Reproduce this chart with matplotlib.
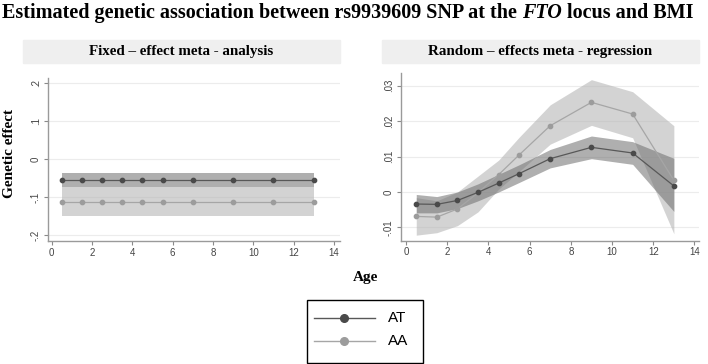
import matplotlib
matplotlib.use("Agg")
from matplotlib import pyplot as plt
from matplotlib.patches import Rectangle
from matplotlib.lines import Line2D

ages = [0.5, 1.5, 2.5, 3.5, 4.5, 5.5, 7, 9, 11, 13]

# fixed-effect meta-analysis
fix_at = [-0.056] * 10
fix_at_lo = [-0.075] * 10
fix_at_hi = [-0.037] * 10
fix_aa = [-0.112] * 10
fix_aa_lo = [-0.149] * 10
fix_aa_hi = [-0.075] * 10

# random-effects meta-regression
ran_at = [-0.0034, -0.0035, -0.0024, -0.0001, 0.0025, 0.0052, 0.0094, 0.0126, 0.0110, 0.0017]
ran_at_lo = [-0.0059, -0.0059, -0.0047, -0.0025, 0.0000, 0.0027, 0.0068, 0.0094, 0.0078, -0.0055]
ran_at_hi = [-0.0007, -0.0013, 0.0000, 0.0023, 0.0050, 0.0077, 0.0120, 0.0158, 0.0142, 0.0095]
ran_aa = [-0.0069, -0.0071, -0.0048, -0.0002, 0.0049, 0.0105, 0.0187, 0.0253, 0.0220, 0.0033]
ran_aa_lo = [-0.0122, -0.0115, -0.0095, -0.0056, 0.0008, 0.0058, 0.0135, 0.0188, 0.0153, -0.0118]
ran_aa_hi = [-0.0016, -0.0025, 0.0000, 0.0045, 0.0090, 0.0155, 0.0246, 0.0317, 0.0283, 0.0187]

xticks = [0, 2, 4, 6, 8, 10, 12, 14]
fix_yticks = [-0.2, -0.1, 0, 0.1, 0.2]
fix_ylabels = ["-.2", "-.1", "0", ".1", ".2"]
ran_yticks = [-0.01, 0, 0.01, 0.02, 0.03]
ran_ylabels = ["-.01", "0", ".01", ".02", ".03"]

AT_LINE = "#585858"
AT_MARK = "#4a4a4a"
AA_LINE = "#a6a6a6"
AA_MARK = "#9c9c9c"
SERIF = ["Liberation Serif", "DejaVu Serif"]
SANS = ["Liberation Sans", "DejaVu Sans"]

W, H = 708, 364
fig = plt.figure(figsize=(W / 100, H / 100), dpi=100)


def px_axes(x0, y0, x1, y1):
    # pixel box (top-left origin) -> figure axes
    return fig.add_axes([x0 / W, 1 - y1 / H, (x1 - x0) / W, (y1 - y0) / H])


def style(ax, yt, yl, xlim, ylim):
    ax.set_xlim(*xlim)
    ax.set_ylim(*ylim)
    ax.set_xticks(xticks)
    ax.set_xticklabels([str(t) for t in xticks], family=SANS, fontsize=7, color="#444444")
    ax.set_yticks(yt)
    ax.set_yticklabels(yl, family=SANS, fontsize=7, color="#444444", rotation=90, va="center")
    for s in ["top", "right"]:
        ax.spines[s].set_visible(False)
    for s in ["left", "bottom"]:
        ax.spines[s].set_color("#9a9a9a")
        ax.spines[s].set_linewidth(1.0)
    ax.tick_params(length=3, width=0.8, color="#8a8a8a", pad=2)
    ax.yaxis.grid(True, color="#ececec", linewidth=0.8)
    ax.set_axisbelow(True)


def draw(ax, at, at_lo, at_hi, aa, aa_lo, aa_hi):
    ax.fill_between(ages, aa_lo, aa_hi, color="#b0b0b0", alpha=0.55, linewidth=0, zorder=2)
    ax.fill_between(ages, at_lo, at_hi, color="#6e6e6e", alpha=0.55, linewidth=0, zorder=3)
    ax.plot(ages, aa, color=AA_LINE, lw=0.9, marker="o", ms=3.1,
            mfc=AA_MARK, mec=AA_MARK, zorder=4)
    ax.plot(ages, at, color=AT_LINE, lw=0.9, marker="o", ms=3.1,
            mfc=AT_MARK, mec=AT_MARK, zorder=5)


ax1 = px_axes(47.7, 78, 340, 241)
draw(ax1, fix_at, fix_at_lo, fix_at_hi, fix_aa, fix_aa_lo, fix_aa_hi)
style(ax1, fix_yticks, fix_ylabels, (-0.2, 14.3), (-0.2157, 0.2123))

ax2 = px_axes(401, 73.3, 699, 240.5)
draw(ax2, ran_at, ran_at_lo, ran_at_hi, ran_aa, ran_aa_lo, ran_aa_hi)
style(ax2, ran_yticks, ran_ylabels, (-0.24, 14.22), (-0.0137, 0.0335))

# panel title bands
for (x0, x1, txt) in [(23, 340, "Fixed \u2013 effect meta - analysis"),
                      (382, 699, "Random \u2013 effects meta - regression")]:
    fig.patches.append(Rectangle((x0 / W, 1 - 63 / H), (x1 - x0) / W, 23 / H,
                                 transform=fig.transFigure, color="#efefef", zorder=0))
    fig.text((x0 + x1) / 2 / W, 1 - 51.5 / H, txt, family=SERIF, weight="bold",
             fontsize=10.8, ha="center", va="center")

# main title with italic gene name
TS = 14.5
t1 = fig.text(2 / W, 1 - 13 / H, "Estimated genetic association between rs9939609 SNP at the ",
              family=SERIF, weight="bold", fontsize=TS, ha="left", va="center")
fig.canvas.draw()
bb = t1.get_window_extent()
t2 = fig.text(bb.x1 / W, 1 - 13 / H, "FTO", family=SERIF, weight="bold", style="italic",
              fontsize=TS, ha="left", va="center")
bb2 = t2.get_window_extent()
fig.text(bb2.x1 / W, 1 - 13 / H, " locus and BMI", family=SERIF, weight="bold",
         fontsize=TS, ha="left", va="center")

fig.text(9.5 / W, 1 - 153 / H, "Genetic effect", family=SERIF, weight="bold",
         fontsize=11, rotation=90, ha="center", va="center")
fig.text(366 / W, 1 - 277 / H, "Age", family=SERIF, weight="bold",
         fontsize=11, ha="center", va="center")

# legend box
fig.patches.append(Rectangle((307.3 / W, 1 - 362.5 / H), 116 / W, 62.5 / H,
                             transform=fig.transFigure, fill=False, edgecolor="black",
                             linewidth=1.0, zorder=5))
for (yy, lc, mc, lab) in [(318.3, AT_LINE, AT_MARK, "AT"), (341, AA_LINE, AA_MARK, "AA")]:
    fig.lines.append(Line2D([314 / W, 375 / W], [1 - yy / H, 1 - yy / H],
                            transform=fig.transFigure, color=lc, lw=1.0))
    fig.lines.append(Line2D([344.3 / W], [1 - yy / H], transform=fig.transFigure,
                            marker="o", ms=5.5, mfc=mc, mec=mc, lw=0))
    fig.text(388 / W, 1 - yy / H, lab, family=SANS, fontsize=11, ha="left", va="center")

fig.savefig("out.png", dpi=100)
